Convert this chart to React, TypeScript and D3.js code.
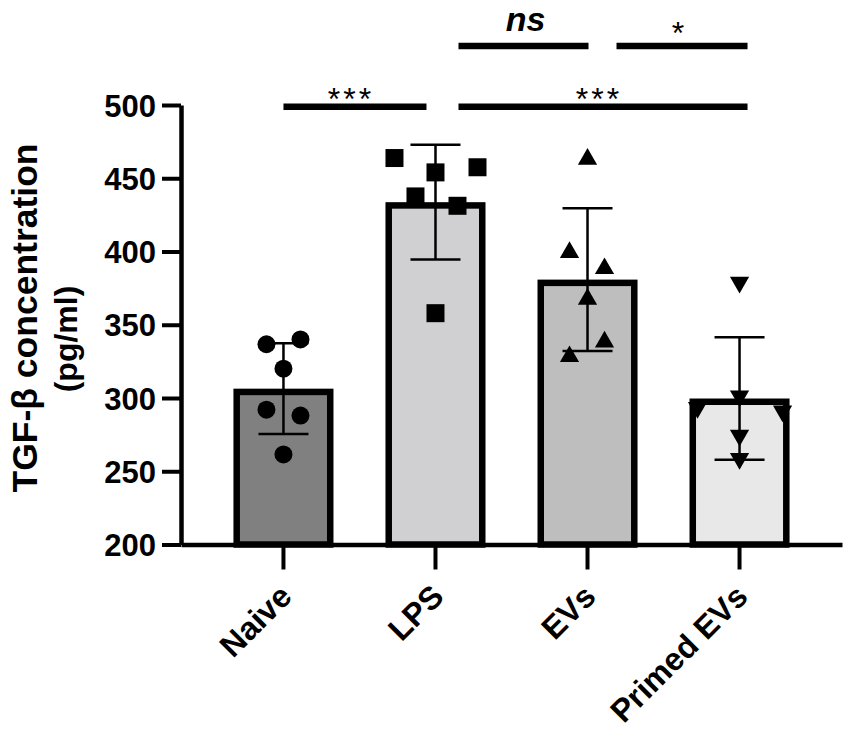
import React, { useRef, useEffect } from 'react';
import * as d3 from 'd3';

// groups and replicate values (pg/ml)
const categories = ['Naive', 'LPS', 'EVs', 'Primed EVs'];
const naiveValues = [336.7, 340, 320, 292, 288, 261.5];
const lpsValues = [463.8, 454, 457.5, 437.6, 431.2, 357.9];
const evsValues = [463, 399.4, 388.4, 367.5, 338.3, 328.3];
const primedValues = [378.9, 301.4, 293.4, 291.1, 274.5, 258.6];

// horizontal scatter of the replicates, as a fraction of the bar width
const naiveJitter = [-0.17, 0.17, 0, -0.17, 0.17, 0];
const lpsJitter = [-0.41, 0, 0.42, -0.2, 0.22, 0];
const evsJitter = [0, -0.18, 0.17, 0, 0.17, -0.18];
const primedJitter = [0, 0, -0.42, 0.43, 0, 0];

const yTicks = [200, 250, 300, 350, 400, 450, 500];

// pairwise comparisons: [from, to, label, level]
const comparisons: [string, string, string, number][] = [
    ['Naive', 'LPS', '***', 0],
    ['LPS', 'Primed EVs', '***', 0],
    ['LPS', 'EVs', 'ns', 1],
    ['EVs', 'Primed EVs', '*', 1],
];

const barFills = ['#808080', '#d0d0d2', '#bebebe', '#e8e8e8'];
const symbols = [d3.symbolCircle, d3.symbolSquare, d3.symbolTriangle, d3.symbolTriangle];
const symbolSizes = [254, 324, 160, 160];
const symbolRotate = [0, 0, 0, 180];

const WIDTH = 851;
const HEIGHT = 732;
const FONT = '"Liberation Sans", Arial, Helvetica, sans-serif';

const App: React.FC = () => {
    const svgRef = useRef<SVGSVGElement | null>(null);

    useEffect(() => {
        if (!svgRef.current) return;
        const svg = d3.select(svgRef.current);
        svg.selectAll('*').remove();

        const groups = [
            { values: naiveValues, jitter: naiveJitter },
            { values: lpsValues, jitter: lpsJitter },
            { values: evsValues, jitter: evsJitter },
            { values: primedValues, jitter: primedJitter },
        ].map((g, i) => ({
            name: categories[i],
            ...g,
            mean: d3.mean(g.values) as number,
            sd: d3.deviation(g.values) as number,
        }));

        const x = d3
            .scaleBand()
            .domain(categories)
            .range([181, 842])
            .paddingInner(0.342)
            .paddingOuter(0.345);

        const y = d3.scaleLinear().domain([200, 500]).range([544.5, 105]);
        const bw = x.bandwidth();
        const barStroke = 6.5;

        // bars
        svg.append('g')
            .selectAll('rect')
            .data(groups)
            .enter()
            .append('rect')
            .attr('x', (d) => x(d.name)! + barStroke / 2)
            .attr('y', (d) => y(d.mean) + barStroke / 2)
            .attr('width', bw - barStroke)
            .attr('height', (d) => y(200) - y(d.mean) - barStroke / 2)
            .attr('fill', (d, i) => barFills[i])
            .attr('stroke', '#000')
            .attr('stroke-width', barStroke);

        // error bars (mean ± SD)
        const capW = 50;
        const err = svg.append('g').attr('stroke', '#000').attr('stroke-width', 2.5);
        groups.forEach((d) => {
            const cx = x(d.name)! + bw / 2;
            err.append('line')
                .attr('x1', cx)
                .attr('x2', cx)
                .attr('y1', y(d.mean + d.sd))
                .attr('y2', y(d.mean - d.sd));
            [d.mean + d.sd, d.mean - d.sd].forEach((v) => {
                err.append('line')
                    .attr('x1', cx - capW / 2)
                    .attr('x2', cx + capW / 2)
                    .attr('y1', y(v))
                    .attr('y2', y(v));
            });
        });

        // replicate points
        groups.forEach((d, gi) => {
            const cx = x(d.name)! + bw / 2;
            const sym = d3.symbol().type(symbols[gi]).size(symbolSizes[gi]);
            svg.append('g')
                .selectAll('path')
                .data(d.values)
                .enter()
                .append('path')
                .attr('d', sym)
                .attr(
                    'transform',
                    (v, i) =>
                        `translate(${cx + d.jitter[i] * bw},${y(v)}) rotate(${symbolRotate[gi]})`,
                )
                .attr('fill', '#000');
        });

        // y axis
        const yAxis = svg
            .append('g')
            .attr('transform', 'translate(181,0)')
            .call(
                d3
                    .axisLeft(y)
                    .tickValues(yTicks)
                    .tickSize(19)
                    .tickSizeOuter(0)
                    .tickPadding(6),
            );
        yAxis.select('.domain').attr('stroke-width', 4.5).attr('stroke', '#000');
        yAxis.selectAll('.tick line').attr('stroke-width', 4).attr('stroke', '#000');
        yAxis
            .selectAll('text')
            .attr('fill', '#000')
            .attr('font-family', FONT)
            .attr('font-weight', 'bold')
            .attr('font-size', 31)
            .attr('dy', '0.36em');

        // x axis
        const xAxis = svg
            .append('g')
            .attr('transform', `translate(0,${y(200)})`)
            .call(d3.axisBottom(x).tickSize(25).tickSizeOuter(0));
        xAxis.select('.domain').attr('stroke-width', 4.5).attr('stroke', '#000');
        xAxis.selectAll('.tick line').attr('stroke-width', 4).attr('stroke', '#000');
        xAxis
            .selectAll('text')
            .attr('x', 0)
            .attr('y', 0)
            .attr('dy', 0)
            .attr('transform', 'translate(10,54) rotate(-45)')
            .attr('text-anchor', 'end')
            .attr('fill', '#000')
            .attr('font-family', FONT)
            .attr('font-weight', 'bold')
            .attr('font-size', 32);

        // y axis title
        svg.append('text')
            .attr('transform', 'translate(37,318) rotate(-90)')
            .attr('text-anchor', 'middle')
            .attr('font-family', FONT)
            .attr('font-weight', 'bold')
            .attr('font-size', 35.5)
            .text('TGF-β concentration');
        svg.append('text')
            .attr('transform', 'translate(77,339) rotate(-90)')
            .attr('text-anchor', 'middle')
            .attr('font-family', FONT)
            .attr('font-weight', 'bold')
            .attr('font-size', 32)
            .text('(pg/ml)');

        // significance brackets
        const levelY = [106.7, 46];
        const startTrim: Record<string, number> = { Naive: 0, LPS: 23, EVs: 29 };
        const endTrim: Record<string, number> = { LPS: -9, EVs: 1, 'Primed EVs': 8 };
        const sig = svg.append('g');
        comparisons.forEach(([a, b, label, level]) => {
            const x1 = x(a)! + bw / 2 + startTrim[a];
            const x2 = x(b)! + bw / 2 + endTrim[b];
            const ly = levelY[level];
            sig.append('line')
                .attr('x1', x1)
                .attr('x2', x2)
                .attr('y1', ly)
                .attr('y2', ly)
                .attr('stroke', '#000')
                .attr('stroke-width', 6.5);
            const isNs = label === 'ns';
            sig.append('text')
                .attr('x', (x1 + x2) / 2 + (isNs ? 2 : -4))
                .attr('y', isNs ? ly - 15 : ly + (label === '*' ? -2 : 3))
                .attr('text-anchor', 'middle')
                .attr('font-family', FONT)
                .attr('font-weight', isNs ? 'bold' : 'normal')
                .attr('font-style', isNs ? 'italic' : 'normal')
                .attr('font-size', isNs ? 34 : 32)
                .attr('letter-spacing', label === '***' ? 3 : 0)
                .text(label);
        });
    }, []);

    return (
        <svg
            ref={svgRef}
            width={WIDTH}
            height={HEIGHT}
            style={{ position: 'absolute', left: 0, top: 0, background: '#fff' }}
        ></svg>
    );
};

export default App;
